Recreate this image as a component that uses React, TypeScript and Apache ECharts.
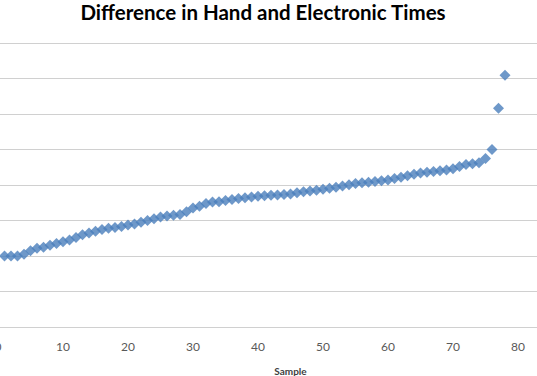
import React, { useEffect, useRef } from "react";
import * as echarts from "echarts";

const titleText = "Difference in Hand and Electronic Times";
const xAxisName = "Sample";
const xTickLabels = ["0", "10", "20", "30", "40", "50", "60", "70", "80"];
const differences = [
  -0.2, -0.2, -0.2, -0.195, -0.185, -0.178, -0.175, -0.17, -0.165, -0.16,
  -0.155, -0.148, -0.14, -0.135, -0.13, -0.125, -0.122, -0.12, -0.117, -0.113,
  -0.11, -0.105, -0.1, -0.095, -0.09, -0.087, -0.085, -0.083, -0.075, -0.065,
  -0.06, -0.052, -0.048, -0.047, -0.044, -0.041, -0.038, -0.036, -0.034, -0.032,
  -0.03, -0.029, -0.028, -0.027, -0.025, -0.022, -0.019, -0.017, -0.015, -0.012,
  -0.009, -0.006, -0.003, 0.001, 0.004, 0.006, 0.008, 0.01, 0.012, 0.014,
  0.018, 0.022, 0.026, 0.03, 0.034, 0.036, 0.038, 0.04, 0.042, 0.046,
  0.052, 0.058, 0.06, 0.063, 0.075, 0.1, 0.216, 0.309,
];
const samples = differences.map((_, i) => i + 1);

export default function App() {
  const ref = useRef<HTMLDivElement>(null);
  useEffect(() => {
    if (!ref.current) return;
    const chart = echarts.init(ref.current, null, { renderer: "svg" });
    chart.setOption({
      animation: false,
      backgroundColor: "#ffffff",
      title: {
        text: titleText,
        left: 258,
        textAlign: "center",
        top: -4,
        textStyle: {
          fontFamily: "Lato",
          fontWeight: "bold",
          fontSize: 20.5,
          color: "#000000",
        },
      },
      grid: {
        left: -2,
        top: 43,
        width: 585,
        height: 284,
        containLabel: false,
        outerBoundsMode: "none",
      },
      xAxis: {
        type: "value",
        min: 0,
        max: 90,
        interval: 10,
        name: xAxisName,
        nameLocation: "middle",
        nameGap: 39,
        nameTextStyle: {
          fontFamily: "Lato",
          fontWeight: "bold",
          fontSize: 10,
          color: "#404040",
        },
        axisLine: { show: true, lineStyle: { color: "#d0d0d0", width: 1 } },
        axisTick: { show: false },
        axisLabel: {
          fontFamily: "Lato",
          fontSize: 12,
          color: "#595959",
          margin: 13,
          formatter: (v: number) =>
            xTickLabels.includes(String(v)) ? String(v) : "",
        },
        splitLine: { show: false },
      },
      yAxis: {
        type: "value",
        min: -0.4,
        max: 0.4,
        interval: 0.1,
        axisLine: { show: false },
        axisTick: { show: false },
        axisLabel: { show: false },
        splitLine: { show: true, lineStyle: { color: "#d0d0d0", width: 1 } },
      },
      series: [
        {
          type: "scatter",
          symbol: "diamond",
          symbolSize: 11,
          itemStyle: { color: "#4a7ebb" },
          data: samples.map((s, i) => [s, differences[i]]),
        },
      ],
    });
    return () => chart.dispose();
  }, []);
  return (
    <div
      ref={ref}
      style={{ position: "fixed", left: 0, top: 0, width: 537, height: 376 }}
    />
  );
}
